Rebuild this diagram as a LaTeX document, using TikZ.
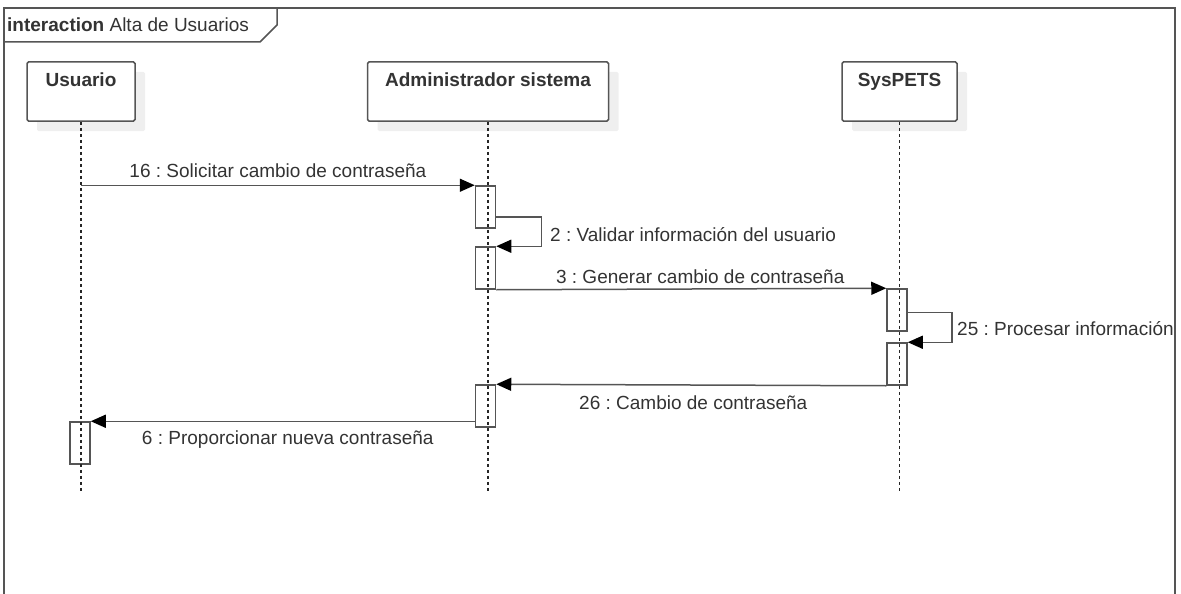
\documentclass[tikz,border=0pt]{standalone}
\usepackage{fontspec}
\setmainfont{Liberation Sans}
\usepackage{xcolor}
\usetikzlibrary{arrows.meta,positioning,shadows}
\definecolor{ln}{HTML}{555555}
\definecolor{txt}{HTML}{333333}
\definecolor{shade}{HTML}{EFEFEF}
\frenchspacing

\begin{document}
\begin{tikzpicture}[x=1pt,y=-1pt,node distance=231pt,
  every node/.style={font=\fontsize{19}{23}\selectfont,text=txt},
  head/.style={draw=ln,line width=1.5pt,rounded corners=1.5pt,fill=white,minimum height=59pt,
    drop shadow={shadow xshift=10pt,shadow yshift=-10pt,fill=shade,opacity=1}},
  htxt/.style={font=\fontsize{19}{23}\selectfont\bfseries,anchor=base,inner sep=0pt},
  act/.style={draw=ln,line width=1.5pt,fill=white,minimum width=20pt,minimum height=42pt,inner sep=0pt},
  life/.style={draw=black!85,line width=1.1pt,dash pattern=on 3pt off 3pt},
  msg/.style={draw=ln,line width=1.5pt,-{Triangle[length=15pt,width=13pt,color=black]}},
  frm/.style={draw=ln,line width=1.5pt}]
  \useasboundingbox (0,0) rectangle (1181,594);
  % frame
  \draw[frm] (4,594) -- (4,8) -- (1175,8) -- (1175,594);
  \draw[frm] (4,42) -- (260,42) -- (277,25) -- (277,8);
  \node[anchor=base west,inner sep=0pt] (ttl) at (7,32) {\textbf{interaction} Alta de Usuarios};
  % lifeline heads
  \node[head,minimum width=108pt] (usr) at (81,91.5) {};
  \node[head,minimum width=241pt,right=of usr] (adm) {};
  \node[head,minimum width=115pt,right=232pt of adm] (sys) {};
  \node[htxt] (usrt) at ([yshift=-25pt]usr.north) {Usuario};
  \node[htxt] (admt) at ([yshift=-25pt]adm.north) {Administrador sistema};
  \node[htxt] (syst) at ([yshift=-25pt]sys.north) {SysPETS};
  \coordinate (bot) at (0,492);
  % activations
  \node[act] (a1) at (485.5,207) {};
  \node[act] (a2) at (485.5,268) {};
  \node[act] (a3) at (485.5,406) {};
  \node[act] (s1) at (897,310) {};
  \node[act] (s2) at (897,364) {};
  \node[act] (u1) at (80,443) {};
  % lifelines
  \draw[life] (usr.south) -- (usr.south |- bot);
  \draw[life] (adm.south) -- (adm.south |- bot);
  \draw[life] (sys.south) -- (sys.south |- bot);
  % messages
  \draw[msg] (usr.south |- a1.north west) -- node[anchor=base,yshift=8pt] (l1) {16 : Solicitar cambio de contraseña} (a1.north west);
  \draw[msg] ([yshift=-10pt]a1.east) -- ++(45,0) |- (a2.north east);
  \node[anchor=base west,inner sep=0pt] (l2) at (550,241) {2 : Validar información del usuario};
  \draw[msg] (a2.south east) -- node[anchor=base,yshift=6pt,xshift=9pt] (l3) {3 : Generar cambio de contraseña} (s1.north west);
  \draw[msg] ([yshift=-2.5pt]s1.east) -- ++(44,0) |- (s2.north east);
  \node[anchor=base west,inner sep=0pt] (l4) at (957,335) {25 : Procesar información};
  \draw[msg] (s2.south west) -- node[anchor=base,yshift=-24pt,xshift=2pt] (l5) {26 : Cambio de contraseña} (a3.north east);
  \draw[msg] (a3.west |- u1.north east) -- node[anchor=base,yshift=-23pt,xshift=5pt] (l6) {6 : Proporcionar nueva contraseña} (u1.north east);
\end{tikzpicture}
\end{document}
